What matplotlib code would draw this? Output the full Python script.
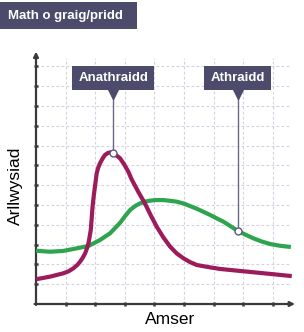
import matplotlib
matplotlib.use("Agg")
import matplotlib.pyplot as plt
from matplotlib.patches import Rectangle

plt.rcParams['font.family'] = ['Liberation Sans', 'DejaVu Sans']

# data (x in grid units, y in grid units)
purple_x = [0.0, 0.47, 0.92, 1.1, 1.26, 1.4, 1.49, 1.58, 1.66, 1.72, 1.77, 1.81, 1.85, 1.88, 1.91,
            1.95, 1.99, 2.05, 2.1, 2.16, 2.25, 2.33, 2.42, 2.5, 2.61, 2.72, 2.84, 2.98, 3.12, 3.23,
            3.45, 3.68, 3.88, 4.08, 4.3, 4.53, 4.75, 4.98, 5.2, 5.43, 5.88, 6.22, 6.89, 7.91, 8.64]
purple_y = [1.25, 1.38, 1.55, 1.65, 1.8, 1.98, 2.14, 2.34, 2.56, 2.8, 3.06, 3.38, 3.74, 4.3, 4.91,
            5.45, 5.92, 6.6, 6.88, 7.1, 7.35, 7.53, 7.62, 7.66, 7.61, 7.5, 7.36, 7.05, 6.68, 6.3,
            5.68, 5.08, 4.47, 3.9, 3.37, 2.9, 2.56, 2.31, 2.12, 1.97, 1.85, 1.77, 1.67, 1.52, 1.41]
green_x = [0.0, 0.47, 0.92, 1.37, 1.77, 2.16, 2.5, 2.84, 3.0, 3.18, 3.35, 3.51, 3.68, 3.85, 4.05,
           4.3, 4.55, 4.75, 5.0, 5.2, 5.45, 5.65, 5.88, 6.1, 6.33, 6.57, 6.81, 7.08, 7.34, 7.62,
           7.91, 8.25, 8.61]
green_y = [2.69, 2.64, 2.68, 2.81, 2.93, 3.23, 3.57, 4.1, 4.42, 4.75, 4.95, 5.08, 5.17, 5.22, 5.25,
           5.25, 5.21, 5.17, 5.07, 4.95, 4.8, 4.66, 4.5, 4.33, 4.16, 3.93, 3.7, 3.5, 3.32, 3.16,
           3.03, 2.94, 2.88]

labels = ['Anathraidd', 'Athraidd']
label_x = [2.61, 6.81]
label_y = [7.61, 3.7]

title = 'Math o graig/pridd'
xlabel = 'Amser'
ylabel = 'Arllwysiad'

fig = plt.figure(figsize=(3.04, 3.32), dpi=100)
ax = fig.add_axes([36 / 304, 28 / 332, 260.5 / 304, 253.4 / 332])
ax.set_xlim(0, 8.8)
ax.set_ylim(0, 12.8)
for s in ax.spines.values():
    s.set_visible(False)

grid_c = '#d2d2e4'
ax.vlines(range(1, 9), 0, 12.45, colors=grid_c, lw=0.8, linestyles=(0, (2.5, 2)), zorder=1)
ax.hlines(range(1, 13), 0, 8.6, colors=grid_c, lw=0.8, linestyles=(0, (2.5, 2)), zorder=1)

axis_c = '#3a3a3a'
ax.annotate('', xy=(0, 12.75), xytext=(0, -0.05), annotation_clip=False,
            arrowprops=dict(arrowstyle='-|>', color=axis_c, lw=1.6, mutation_scale=7,
                            shrinkA=0, shrinkB=0))
ax.annotate('', xy=(8.75, 0), xytext=(-0.05, 0), annotation_clip=False,
            arrowprops=dict(arrowstyle='-|>', color=axis_c, lw=1.6, mutation_scale=7,
                            shrinkA=0, shrinkB=0))
ax.set_xticks(range(1, 9))
ax.set_yticks(range(1, 13))
ax.tick_params(direction='inout', length=3.5, width=1.8, colors=axis_c,
               labelbottom=False, labelleft=False)

ax.plot(green_x, green_y, color='#2ea44f', lw=3, solid_capstyle='butt',
        solid_joinstyle='round', zorder=3)
ax.plot(purple_x, purple_y, color='#9c1b5b', lw=3, solid_capstyle='butt',
        solid_joinstyle='round', zorder=4)

box_c = '#4c4b6c'
for name, mx, my in zip(labels, label_x, label_y):
    ax.plot([mx, mx], [10.5, my], color='#6a6a85', lw=1, zorder=5)
    ax.plot(mx, my, 'o', ms=5, mfc='white', mec='#5a5a78', mew=1, zorder=6)
    ax.text(mx, 11.4, name, color='white', fontsize=9.5, fontweight='bold',
            ha='center', va='center', zorder=7,
            bbox=dict(boxstyle='square,pad=0.45', fc=box_c, ec='none'))
    ax.plot(mx, 10.6, 'v', ms=7, color=box_c, zorder=7, clip_on=False)

fig.patches.append(Rectangle((0, 303 / 332), 137 / 304, 27 / 332, transform=fig.transFigure,
                             fc=box_c, ec='none'))
fig.text(8 / 304, (332 - 15.5) / 332, title, color='white', fontsize=9.5, fontweight='bold',
         ha='left', va='center')
fig.text(170 / 304, (332 - 320) / 332, xlabel, fontsize=12.5, ha='center', va='center')
fig.text(15 / 304, (332 - 186) / 332, ylabel, fontsize=12.5, ha='center', va='center',
         rotation=90)

fig.savefig('out.png', dpi=100)
